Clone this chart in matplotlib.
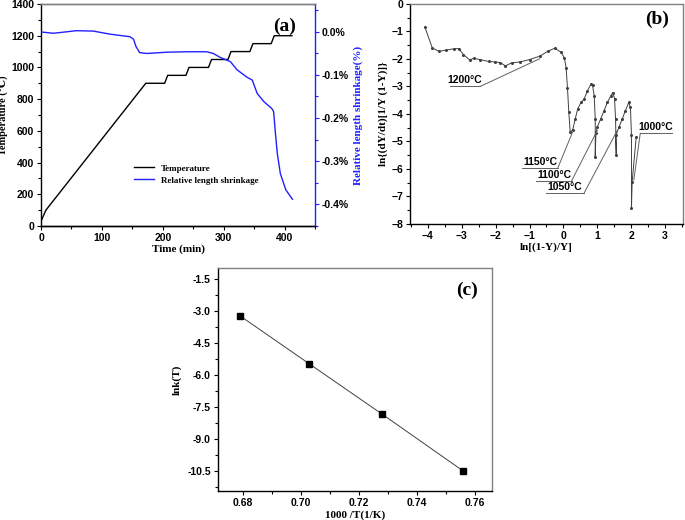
import matplotlib
matplotlib.use("Agg")
import matplotlib.pyplot as plt
from matplotlib.ticker import MultipleLocator, FuncFormatter

# panel (a): temperature program and shrinkage
temp_t = [0, 8, 172, 203, 208, 238, 243, 275, 280, 307, 312, 343, 348, 378, 383, 412]
temp_c = [30, 100, 900, 900, 950, 950, 1000, 1000, 1050, 1050, 1100, 1100, 1150, 1150, 1200, 1200]

shr_t = [0, 20, 40, 58, 86, 113, 146, 152, 156, 162, 174, 207, 240, 272, 283, 294,
         311, 322, 338, 347, 355, 366, 379, 382, 385, 388, 393, 402, 413]
shr_pct = [0.0, -0.003, 0.0, 0.003, 0.002, -0.005, -0.011, -0.017, -0.034, -0.048,
           -0.05, -0.047, -0.046, -0.046, -0.05, -0.059, -0.069, -0.088, -0.105,
           -0.112, -0.143, -0.162, -0.178, -0.185, -0.236, -0.282, -0.329, -0.367, -0.389]

# panel (b): kinetic plot
b_x = [-4.09, -3.87, -3.67, -3.48, -3.24, -3.09, -2.95, -2.77, -2.65, -2.46, -2.21,
       -2.02, -1.87, -1.71, -1.53, -1.29, -1.0, -0.70, -0.46, -0.26, -0.07, 0.03,
       0.08, 0.12, 0.16, 0.20, 0.27, 0.35, 0.42, 0.52, 0.61, 0.71, 0.81, 0.86, 0.91,
       0.94, 0.94, 0.96, 1.0, 1.10, 1.20, 1.30, 1.40, 1.46, 1.51, 1.54, 1.56, 1.55,
       1.64, 1.74, 1.83, 1.93, 1.98, 2.01, 2.01, 2.03, 2.15]
b_y = [-0.84, -1.60, -1.72, -1.68, -1.63, -1.62, -1.84, -2.03, -1.98, -2.02, -2.09,
       -2.11, -2.13, -2.25, -2.14, -2.11, -2.02, -1.90, -1.72, -1.61, -1.75, -1.96,
       -2.32, -3.04, -3.94, -4.64, -4.60, -4.18, -3.82, -3.58, -3.46, -3.16, -2.92,
       -2.96, -3.34, -4.18, -5.56, -4.70, -4.48, -4.18, -3.88, -3.58, -3.34, -3.22,
       -3.44, -4.18, -5.50, -4.78, -4.48, -4.18, -3.88, -3.58, -3.76, -4.78, -7.42,
       -6.46, -4.84]

# labels in (b): text, underline start/end, leader target
b_labels = ["1200°C", "1150°C", "1100°C", "1050°C", "1000°C"]
b_line_x0 = [-3.34, -1.21, -0.80, -0.51, 2.27]
b_line_x1 = [-2.46, -0.17, 0.24, 0.61, 3.20]
b_line_y = [-3.0, -5.98, -6.44, -6.88, -4.70]
b_lead_from = [-2.46, -0.17, 0.24, 0.61, 2.27]
b_lead_x = [-0.70, 0.27, 1.0, 1.59, 2.08]
b_lead_y = [-1.99, -4.66, -4.60, -4.60, -6.40]

# panel (c): Arrhenius plot
c_x = [0.679, 0.703, 0.728, 0.756]
c_y = [-3.22, -5.48, -7.83, -10.5]

serif = ["Liberation Serif", "DejaVu Serif"]
sans = ["Liberation Sans", "DejaVu Sans"]
plt.rcParams["font.family"] = sans
plt.rcParams["font.weight"] = "bold"
plt.rcParams["font.size"] = 7.5
plt.rcParams["axes.linewidth"] = 1.0

fig = plt.figure(figsize=(6.85, 5.2), dpi=100)


def style(ax):
    ax.tick_params(which="major", direction="out", length=3, width=0.8, pad=2)
    ax.tick_params(which="minor", direction="out", length=2, width=0.8)
    for s in ["top", "right"]:
        ax.spines[s].set_color("#808080")
    for lab in ax.get_xticklabels() + ax.get_yticklabels():
        lab.set_fontweight("bold")


# (a)
ax1 = fig.add_axes([0.0599, 0.5654, 0.400, 0.4269])
ax1.plot(temp_t, temp_c, color="black", lw=1.0, label="Temperature")
ax1.set_xlim(0, 450)
ax1.set_ylim(0, 1400)
ax1.xaxis.set_major_locator(MultipleLocator(100))
ax1.xaxis.set_minor_locator(MultipleLocator(50))
ax1.yaxis.set_major_locator(MultipleLocator(200))
ax1.yaxis.set_minor_locator(MultipleLocator(100))
ax1.set_xlabel("Time (min)", family=serif, fontweight="bold", fontsize=8, labelpad=1)
ax1.set_ylabel("Temperature (℃)", family=serif, fontweight="bold", fontsize=7.5)
ax1.yaxis.set_label_coords(-0.118, 0.5)
style(ax1)
ax1.spines["right"].set_visible(False)

ax2 = ax1.twinx()
ax2.plot(shr_t, shr_pct, color="#2020ff", lw=1.0, label="Relative length shrinkage")
ax2.set_ylim(-0.451, 0.065)
ax2.yaxis.set_major_locator(MultipleLocator(0.1))
ax2.yaxis.set_minor_locator(MultipleLocator(0.05))
ax2.yaxis.set_major_formatter(FuncFormatter(lambda v, p: "%.1f%%" % v))
ax2.tick_params(which="major", direction="out", length=3, width=0.8, pad=2, color="#2020ff")
ax2.tick_params(which="minor", direction="out", length=2, width=0.8, color="#2020ff")
ax2.spines["right"].set_color("#2020ff")
ax2.spines["top"].set_color("#808080")
ax2.spines["left"].set_visible(False)
for lab in ax2.get_yticklabels():
    lab.set_fontweight("bold")
ax2.set_ylabel("Relative length shrinkage(%)", family=serif, fontweight="bold",
               fontsize=8, color="#2020ff", labelpad=3)
h1, l1 = ax1.get_legend_handles_labels()
h2, l2 = ax2.get_legend_handles_labels()
ax1.legend(h1 + h2, l1 + l2, loc="lower left", bbox_to_anchor=(0.31, 0.15),
           frameon=False, handlelength=2.2, labelspacing=0.4,
           prop={"family": serif, "weight": "bold", "size": 6.5})
ax1.text(0.93, 0.94, "(a)", transform=ax1.transAxes, ha="right", va="top",
         family=serif, fontweight="bold", fontsize=14)

# (b)
ax3 = fig.add_axes([0.5985, 0.5693, 0.3985, 0.4230])
ax3.plot(b_x, b_y, color="#404040", lw=0.7, marker="o", ms=1.2)
for i in range(len(b_labels)):
    ax3.plot([b_line_x0[i], b_line_x1[i]], [b_line_y[i], b_line_y[i]],
             color="#606060", lw=0.7)
    ax3.plot([b_lead_from[i], b_lead_x[i]], [b_line_y[i], b_lead_y[i]],
             color="#606060", lw=0.7)
    ax3.text((b_line_x0[i] + b_line_x1[i]) / 2, b_line_y[i] + 0.05, b_labels[i],
             ha="center", va="bottom", fontsize=7.5, fontweight="bold")
ax3.set_xlim(-4.53, 3.53)
ax3.set_ylim(-8, 0)
ax3.xaxis.set_major_locator(MultipleLocator(1))
ax3.xaxis.set_minor_locator(MultipleLocator(0.5))
ax3.yaxis.set_major_locator(MultipleLocator(1))
ax3.yaxis.set_minor_locator(MultipleLocator(0.5))
ax3.set_xlabel("ln[(1-Y)/Y]", family=serif, fontweight="bold", fontsize=8, labelpad=1)
ax3.set_ylabel("ln{(dY/dt)[1/Y (1-Y)]}", family=serif, fontweight="bold", fontsize=8,
               labelpad=2)
style(ax3)
ax3.text(0.95, 0.97, "(b)", transform=ax3.transAxes, ha="right", va="top",
         family=serif, fontweight="bold", fontsize=14)

# (c)
ax4 = fig.add_axes([0.318, 0.0558, 0.400, 0.4288])
ax4.plot(c_x, c_y, color="#404040", lw=0.7, marker="s", ms=4, mfc="black", mec="black")
ax4.set_xlim(0.6714, 0.7659)
ax4.set_ylim(-11.44, -0.98)
ax4.xaxis.set_major_locator(MultipleLocator(0.02))
ax4.xaxis.set_minor_locator(MultipleLocator(0.01))
ax4.yaxis.set_major_locator(MultipleLocator(1.5))
ax4.yaxis.set_minor_locator(MultipleLocator(0.75))
ax4.xaxis.set_major_formatter(FuncFormatter(lambda v, p: "%.2f" % v))
ax4.yaxis.set_major_formatter(FuncFormatter(lambda v, p: "%.1f" % v))
ax4.set_xlabel("1000 /T(1/K)", family=serif, fontweight="bold", fontsize=8, labelpad=2)
ax4.set_ylabel("lnk(T)", family=serif, fontweight="bold", fontsize=8, labelpad=4)
style(ax4)
ax4.text(0.95, 0.94, "(c)", transform=ax4.transAxes, ha="right", va="top",
         family=serif, fontweight="bold", fontsize=14)

fig.savefig("out.png", dpi=100)
